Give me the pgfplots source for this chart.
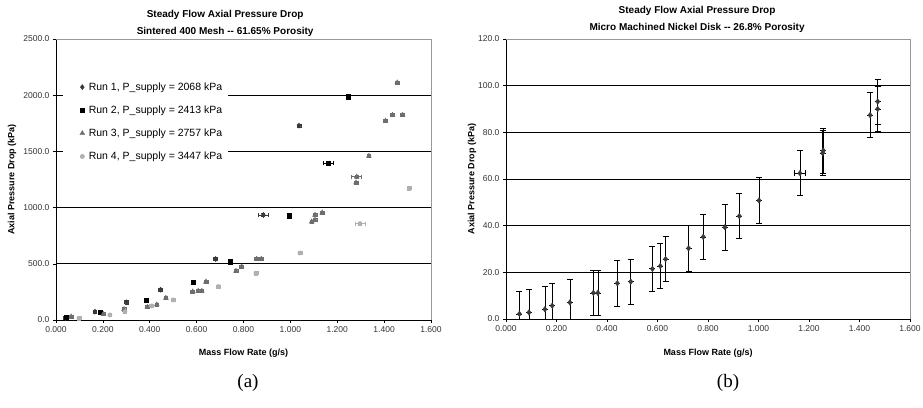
\documentclass[border=0pt]{standalone}
\usepackage{pgfplots}
\pgfplotsset{compat=1.18}
\usepackage{pgfplotstable}
\usepackage{fontspec}
\setmainfont{Liberation Sans}
\newfontfamily\capfont{Liberation Serif}

\definecolor{runA}{HTML}{3A3A3A}
\definecolor{runB}{HTML}{000000}
\definecolor{runC}{HTML}{6E6E6E}
\definecolor{runD}{HTML}{B0B0B0}

% left chart: sintered 400 mesh, x = mass flow (g/s), y = pressure drop (kPa)
\pgfplotstableread{
x y ex ey
0.040 18 0.008 15
0.166 74 0.008 15
0.301 157 0.008 15
0.446 270 0.008 15
0.681 543 0.008 15
0.885 934 0.021 15
1.037 1729 0.008 15
}\runone
\pgfplotstableread{
x y ex ey
0.045 22 0.008 15
0.188 68 0.008 15
0.384 178 0.008 15
0.586 335 0.008 15
0.742 519 0.008 15
0.994 928 0.008 15
1.162 1394 0.021 15
1.247 1987 0.008 15
}\runtwo
\pgfplotstableread{
x y ex ey
0.065 30 0.008 15
0.202 53 0.008 15
0.290 95 0.008 15
0.390 115 0.008 15
0.430 137 0.008 15
0.469 196 0.008 15
0.583 252 0.008 15
0.607 258 0.008 15
0.622 258 0.008 15
0.640 341 0.008 15
0.768 436 0.008 15
0.792 475 0.008 15
0.856 543 0.008 15
0.876 543 0.008 15
1.091 875 0.008 15
1.105 890 0.008 15
1.105 934 0.008 15
1.136 955 0.008 15
1.280 1222 0.008 15
1.283 1275 0.021 15
1.335 1459 0.008 15
1.406 1773 0.008 15
1.436 1824 0.008 15
1.479 1824 0.008 15
1.456 2112 0.008 15
}\runthree
\pgfplotstableread{
x y ex ey
0.098 15 0.008 15
0.230 45 0.008 15
0.294 74 0.008 15
0.408 125 0.008 15
0.500 178 0.008 15
0.693 297 0.008 15
0.853 415 0.008 15
1.041 596 0.008 15
1.297 857 0.021 15
1.507 1171 0.008 15
}\runfour

% right chart: micro machined nickel disk
\pgfplotstableread{
x y ex ey
0.053 2.2 0 9.7
0.091 2.8 0 9.7
0.154 4.2 0 9.7
0.183 5.7 0 9.7
0.253 7.1 0 9.7
0.346 11.2 0 9.7
0.364 11.2 0 9.7
0.441 15.3 0 9.7
0.494 16.0 0 9.7
0.580 21.5 0 9.7
0.611 22.7 0 9.7
0.632 25.7 0 9.7
0.723 30.3 0 9.7
0.781 35.2 0 9.7
0.867 39.3 0 9.7
0.924 44.1 0 9.7
1.002 50.8 0 9.7
1.164 62.5 0.022 9.7
1.254 71.1 0 9.7
1.257 72.2 0 9.7
1.442 87.4 0 9.7
1.472 90.0 0 9.7
1.472 93.2 0 9.7
}\nickel

\pgfplotsset{
  xlchart/.style={
    scale only axis, anchor=south west,
    axis x line*=bottom, axis y line*=left,
    axis line style={black, line width=0.7pt},
    xmin=0, xmax=1.6, ymin=0,
    xtick={0,0.2,0.4,0.6,0.8,1.0,1.2,1.4,1.6},
    tick align=outside, major tick length=3pt,
    tick style={black, line width=0.6pt},
    ymajorgrids, major grid style={black, line width=0.7pt},
    /pgf/number format/assume math mode=true,
    ticklabel style={font=\fontsize{8.5}{10}\selectfont, text=black!80},
    xticklabel style={/pgf/number format/.cd, fixed, fixed zerofill, precision=3},
    yticklabel style={/pgf/number format/.cd, fixed, fixed zerofill, precision=1, 1000 sep={}},
    scaled ticks=false,
    label style={font=\bfseries\fontsize{9}{11}\selectfont},
    xlabel={Mass Flow Rate (g/s)},
    ylabel={Axial Pressure Drop (kPa)},
    title style={font=\bfseries\fontsize{10}{17}\selectfont, align=center, anchor=south},
    after end axis/.append code={
      \draw[black!40, line width=0.8pt] (rel axis cs:0,1) -- (rel axis cs:1,1) -- (rel axis cs:1,0);
    },
  },
  errxy/.style={
    error bars/x dir=both, error bars/x explicit,
    error bars/y dir=both, error bars/y explicit,
    error bars/error bar style={line width=0.6pt, #1},
    error bars/error mark options={#1, rotate=90, mark size=2pt, line width=0.6pt},
  },
}

\begin{document}
\begin{tikzpicture}[x=1pt,y=1pt]
\useasboundingbox (0,0) rectangle (923,407);

\begin{axis}[
  xlchart,
  at={(56pt,87pt)}, width=375pt, height=281pt,
  ymax=2500, ytick={0,500,1000,1500,2000,2500},
  title={Steady Flow Axial Pressure Drop\\Sintered 400 Mesh -{}- 61.65\% Porosity},
  title style={at={(axis description cs:0.451,0.974)}},
  xlabel style={at={(axis description cs:0.5,-0.117)}, anchor=center},
  ylabel style={at={(axis description cs:-0.117,0.5)}, anchor=center},
  legend style={at={(rel axis cs:0.019,0.867)}, anchor=north west, draw=none, fill=white,
    font=\fontsize{10.5}{12}\selectfont, row sep=10pt, inner xsep=4pt, inner ysep=4pt},
  legend cell align=left,
  legend image code/.code={%
    \draw[mark repeat=2,mark phase=2,#1] plot coordinates {(-3pt,0pt) (0pt,0pt) (3pt,0pt)};
    \path[draw=none, fill=none] (-15pt,-1pt) rectangle (4.5pt,1pt);},
]
\addplot[only marks, mark=diamond*, mark size=2.6pt, color=runA, errxy=runA]
  table[x=x, y=y, x error=ex, y error=ey] {\runone};
\addlegendentry{Run 1, P\_supply = 2068 kPa}
\addplot[only marks, mark=square*, mark size=2.1pt, color=runB, errxy=runB]
  table[x=x, y=y, x error=ex, y error=ey] {\runtwo};
\addlegendentry{Run 2, P\_supply = 2413 kPa}
\addplot[only marks, mark=triangle*, mark size=2.8pt, color=runC, errxy=runC]
  table[x=x, y=y, x error=ex, y error=ey] {\runthree};
\addlegendentry{Run 3, P\_supply = 2757 kPa}
\addplot[only marks, mark=*, mark size=2.2pt, color=runD, errxy=runD]
  table[x=x, y=y, x error=ex, y error=ey] {\runfour};
\addlegendentry{Run 4, P\_supply = 3447 kPa}
\end{axis}

\begin{axis}[
  xlchart,
  at={(506pt,88pt)}, width=404pt, height=280pt,
  ymax=120, ytick={0,20,40,60,80,100,120},
  title={Steady Flow Axial Pressure Drop\\Micro Machined Nickel Disk -{}- 26.8\% Porosity},
  title style={at={(axis description cs:0.473,0.989)}},
  xlabel style={at={(axis description cs:0.5,-0.121)}, anchor=center},
  ylabel style={at={(axis description cs:-0.084,0.5)}, anchor=center},
]
\addplot[only marks, mark=diamond*, mark size=2.8pt, color=runA, errxy=black,
  error bars/error mark options={black, rotate=90, mark size=3pt, line width=0.7pt}]
  table[x=x, y=y, x error=ex, y error=ey] {\nickel};
\end{axis}

\node[font=\capfont\fontsize{19}{22}\selectfont] at (248,24) {(a)};
\node[font=\capfont\fontsize{19}{22}\selectfont] at (728,24) {(b)};
\end{tikzpicture}
\end{document}
